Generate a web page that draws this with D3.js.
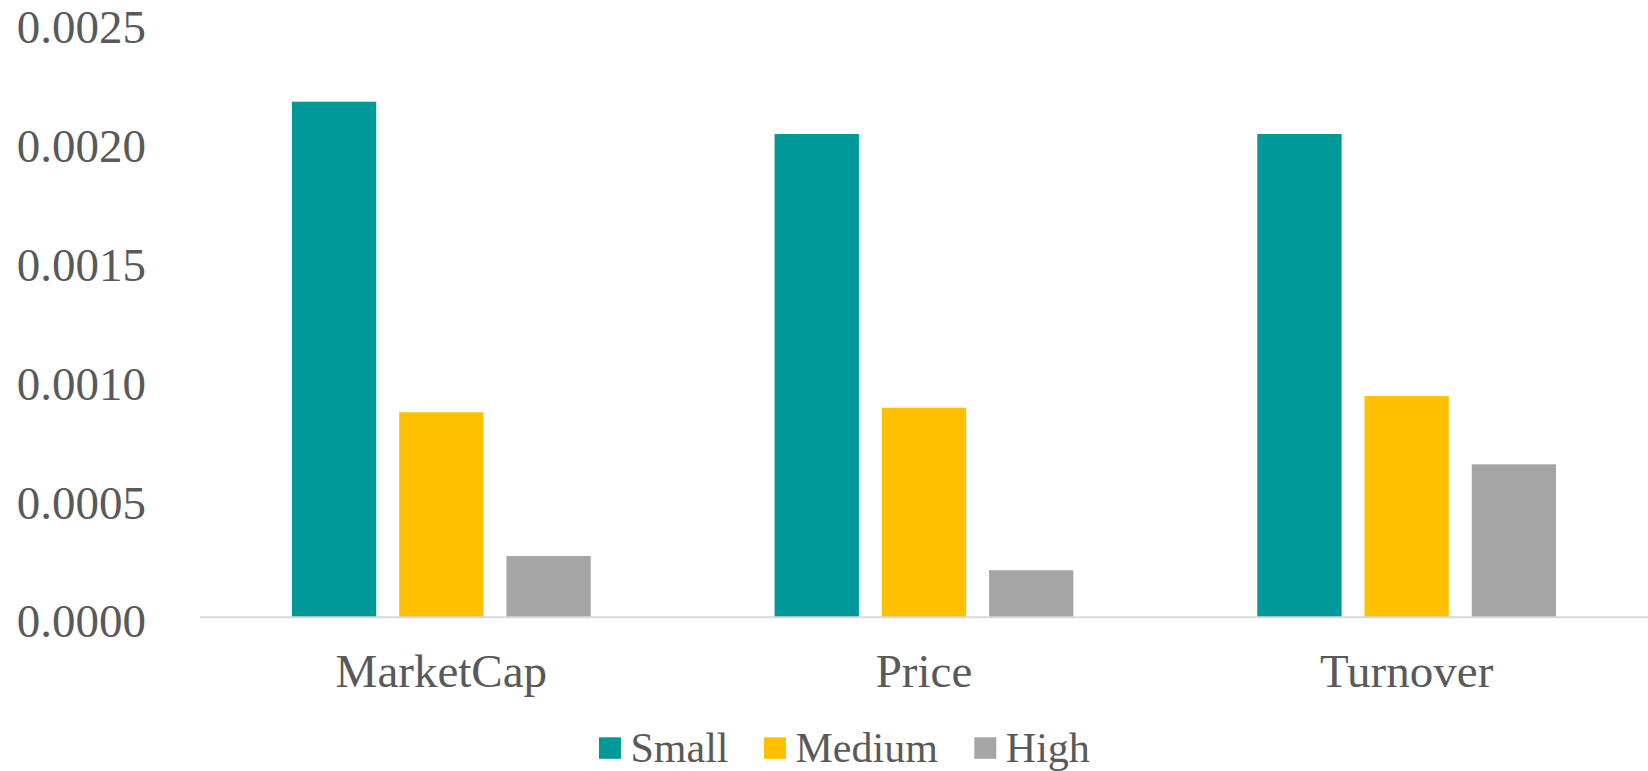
<!DOCTYPE html>
<html>
<head>
<meta charset="utf-8">
<script src="https://cdn.jsdelivr.net/npm/d3@7"></script>
<style>
  html, body { margin: 0; padding: 0; background: #fff; }
  svg { display: block; }
</style>
</head>
<body>
<svg id="chart" width="1648" height="771"></svg>
<script>
const categories = ["MarketCap", "Price", "Turnover"];
const seriesNames = ["Small", "Medium", "High"];
const small = [0.00217, 0.002034, 0.002034];
const medium = [0.000863, 0.000882, 0.000931];
const high = [0.000258, 0.000198, 0.000644];
const yTicks = [0, 0.0005, 0.0010, 0.0015, 0.0020, 0.0025];
const colors = ["#009999", "#FFC000", "#A5A5A5"];

const FONT = "'Liberation Serif', 'Times New Roman', serif";
const seriesValues = [small, medium, high];
const data = categories.map((c, i) => ({
  category: c,
  values: seriesNames.map((s, j) => ({ series: s, value: seriesValues[j][i] }))
}));

const svg = d3.select("#chart");
const plotLeft = 200, plotRight = 1648, baseY = 617.3, topY = 23.3;

const y = d3.scaleLinear().domain([0, 0.0025]).range([baseY, topY]);
const x0 = d3.scaleBand().domain(categories).range([plotLeft, plotRight])
  .paddingInner(0.381).paddingOuter(0.1905);
const x1 = d3.scaleBand().domain(seriesNames).range([0, x0.bandwidth()])
  .paddingInner(0.214).paddingOuter(0);

// bars
const groups = svg.append("g").selectAll("g").data(data).join("g")
  .attr("transform", d => `translate(${x0(d.category)},0)`);
groups.selectAll("rect").data(d => d.values).join("rect")
  .attr("x", d => x1(d.series))
  .attr("width", x1.bandwidth())
  .attr("y", d => y(d.value))
  .attr("height", d => baseY - y(d.value))
  .attr("fill", (d, i) => colors[i]);

// x axis line
svg.append("line")
  .attr("x1", plotLeft).attr("x2", plotRight)
  .attr("y1", baseY).attr("y2", baseY)
  .attr("stroke", "#D9D9D9").attr("stroke-width", 2);

// y axis labels
const yAxis = d3.axisLeft(y).tickValues(yTicks).tickFormat(d3.format(".4f")).tickSize(0).tickPadding(0);
const yg = svg.append("g").attr("transform", "translate(146,0)").call(yAxis);
yg.select(".domain").remove();
yg.selectAll("text")
  .style("font-family", FONT).style("font-size", "47px").style("fill", "#595959")
  .attr("dy", null).attr("y", 19.5);

// x axis labels
const xAxis = d3.axisBottom(x0).tickSize(0).tickPadding(0);
const xg = svg.append("g").attr("transform", `translate(0,${baseY})`).call(xAxis);
xg.select(".domain").remove();
xg.selectAll("text")
  .style("font-family", FONT).style("font-size", "47px").style("fill", "#595959")
  .attr("dy", null).attr("y", 69.7)
  .attr("text-anchor", "middle");

// legend
const legendX = [599, 764, 974.3];
const legend = svg.append("g");
seriesNames.forEach((s, i) => {
  legend.append("rect")
    .attr("x", legendX[i]).attr("y", 737.3)
    .attr("width", 22).attr("height", 21.5)
    .attr("fill", colors[i]);
  legend.append("text")
    .attr("x", legendX[i] + 31.5).attr("y", 761.7)
    .style("font-family", FONT).style("font-size", "42px").style("fill", "#595959")
    .text(s);
});
</script>
</body>
</html>
